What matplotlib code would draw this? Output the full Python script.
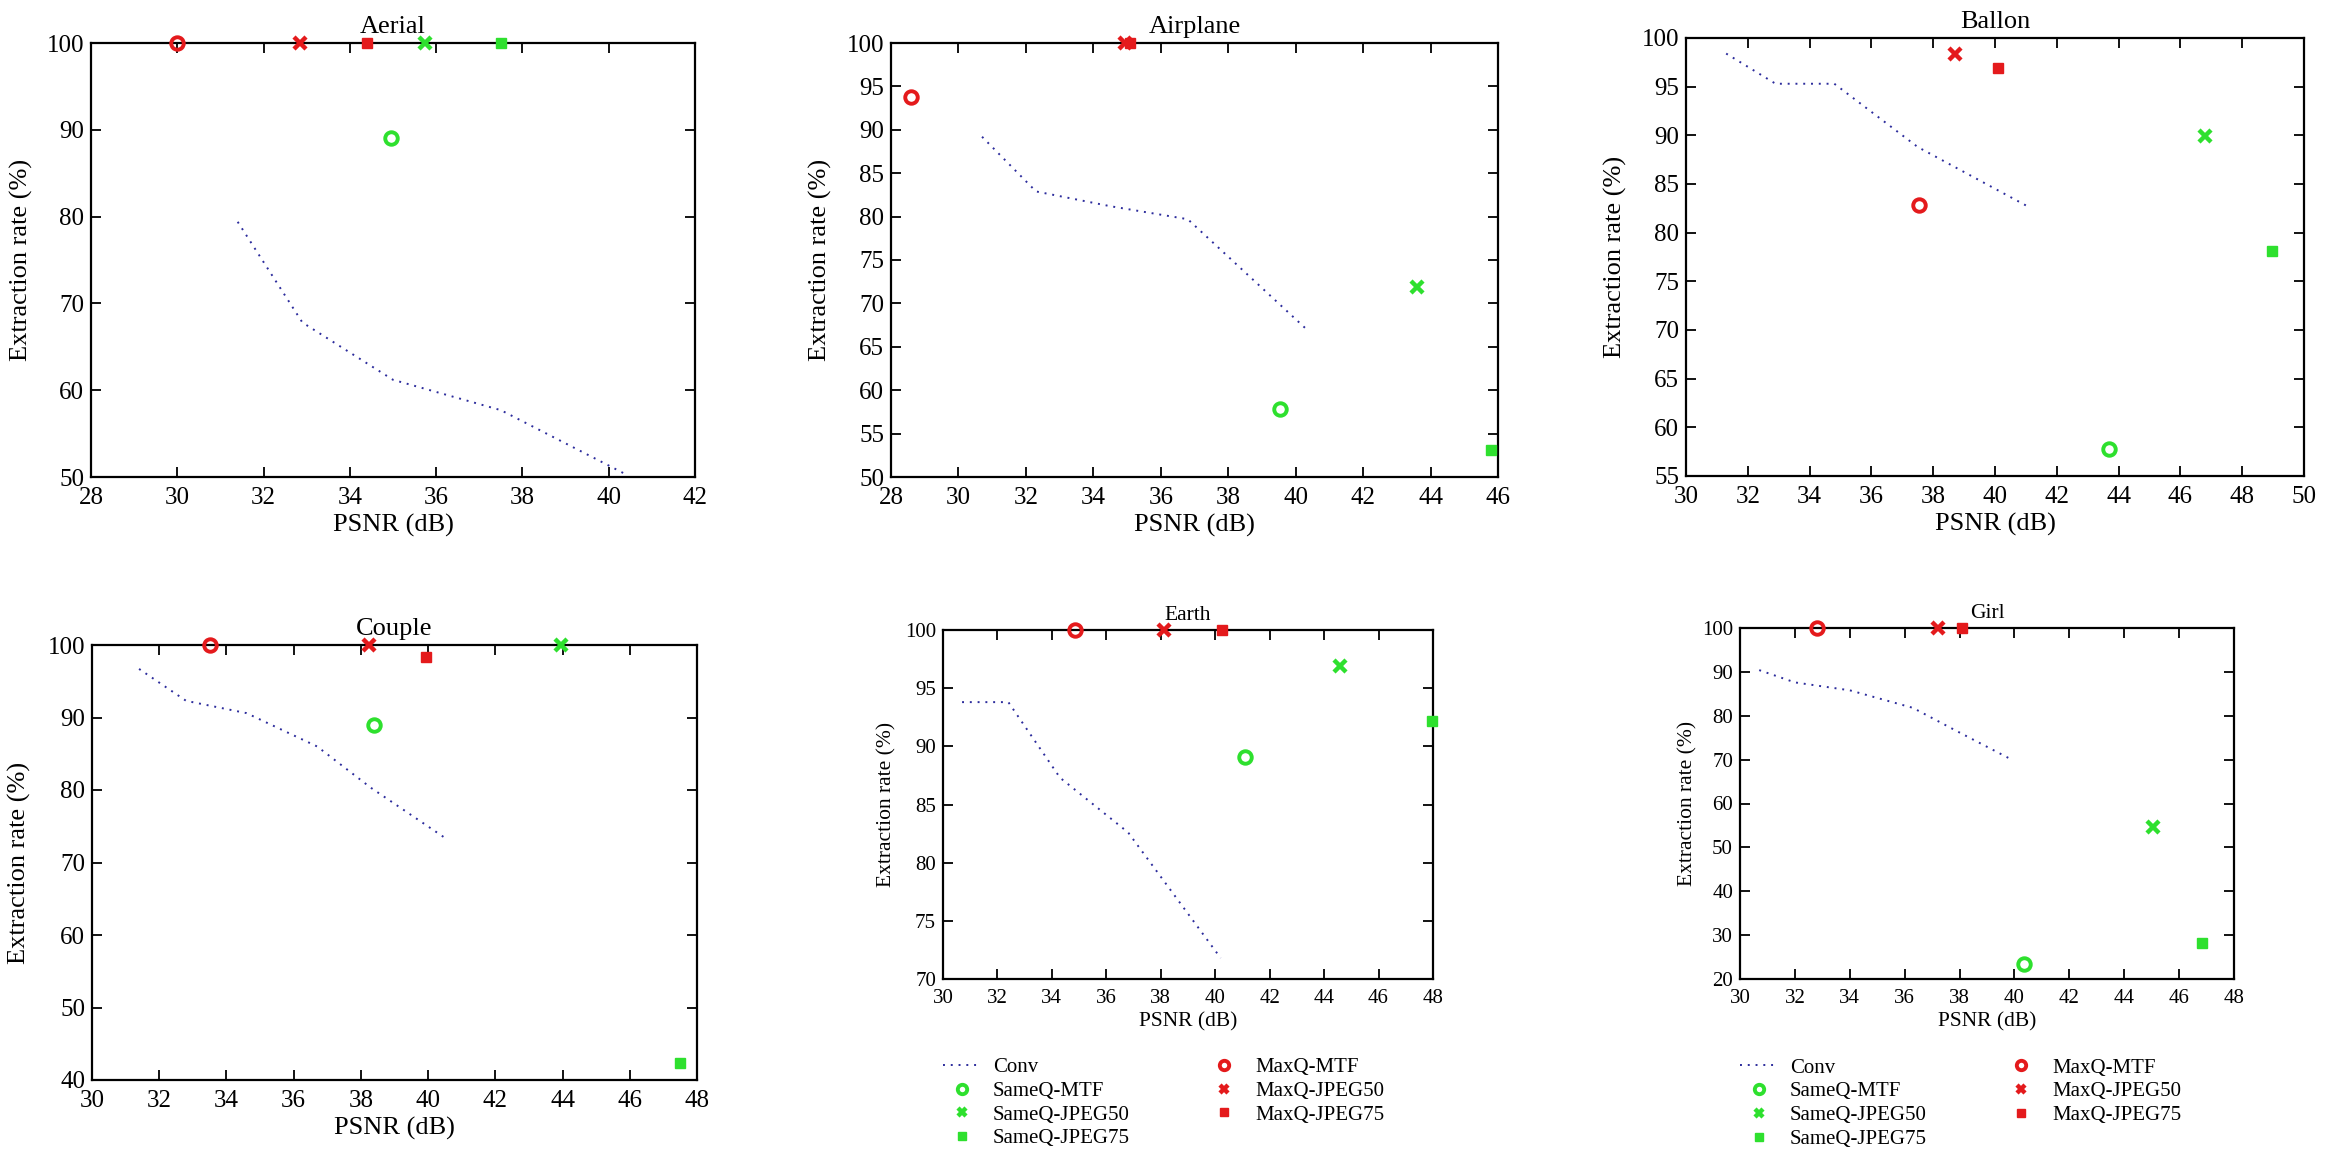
"""
Extraction rate vs PSNR for six test images (Conv, SameQ and MaxQ embedding).
Writes out.png.
"""
import matplotlib
matplotlib.use("Agg")
import matplotlib.pyplot as plt

plt.rcParams["font.family"] = ["Liberation Serif", "DejaVu Serif"]
plt.rcParams["mathtext.default"] = "regular"

images = ["Aerial", "Airplane", "Ballon", "Couple", "Earth", "Girl"]

# Conv curves, one per image
conv_psnr_aerial = [31.4, 32.9, 35.0, 37.5, 40.4]
conv_rate_aerial = [79.4, 67.8, 61.2, 57.7, 50.3]
conv_psnr_airplane = [30.7, 32.3, 34.5, 36.8, 40.3]
conv_rate_airplane = [89.2, 82.9, 81.2, 79.7, 67.1]
conv_psnr_ballon = [31.3, 32.9, 34.8, 37.5, 41.0]
conv_rate_ballon = [98.4, 95.3, 95.3, 88.8, 82.8]
conv_psnr_couple = [31.4, 32.8, 34.6, 36.7, 38.3, 40.5]
conv_rate_couple = [96.7, 92.3, 90.6, 86.0, 80.3, 73.4]
conv_psnr_earth = [30.7, 32.4, 34.3, 36.8, 40.2]
conv_rate_earth = [93.8, 93.8, 87.3, 82.6, 71.8]
conv_psnr_girl = [30.7, 32.0, 34.0, 36.3, 37.9, 39.9]
conv_rate_girl = [90.4, 87.6, 85.8, 81.8, 76.5, 70.0]

# single points per method, in image order
sameq_mtf_psnr = [34.95, 39.55, 43.7, 38.4, 41.1, 40.35]
sameq_mtf_rate = [89.0, 57.8, 57.8, 89.0, 89.05, 23.4]
sameq_jpeg50_psnr = [35.75, 43.6, 46.8, 43.95, 44.6, 45.05]
sameq_jpeg50_rate = [100, 71.9, 89.9, 100, 96.9, 54.7]
sameq_jpeg75_psnr = [37.5, 45.8, 48.95, 47.5, 47.95, 46.85]
sameq_jpeg75_rate = [100, 53.1, 78.1, 42.3, 92.2, 28.1]
maxq_mtf_psnr = [30.0, 28.6, 37.55, 33.5, 34.85, 32.8]
maxq_mtf_rate = [100, 93.8, 82.8, 100, 100, 100]
maxq_jpeg50_psnr = [32.85, 34.95, 38.7, 38.25, 38.1, 37.2]
maxq_jpeg50_rate = [100, 100, 98.4, 100, 100, 100]
maxq_jpeg75_psnr = [34.4, 35.1, 40.1, 39.95, 40.25, 38.1]
maxq_jpeg75_rate = [100, 100, 96.9, 98.4, 100, 100]

# axis ranges
x_lims = [(28, 42), (28, 46), (30, 50), (30, 48), (30, 48), (30, 48)]
y_lims = [(50, 100), (50, 100), (55, 100), (40, 100), (70, 100), (20, 100)]
y_steps = [10, 5, 5, 10, 5, 10]

conv_psnr = [conv_psnr_aerial, conv_psnr_airplane, conv_psnr_ballon,
             conv_psnr_couple, conv_psnr_earth, conv_psnr_girl]
conv_rate = [conv_rate_aerial, conv_rate_airplane, conv_rate_ballon,
             conv_rate_couple, conv_rate_earth, conv_rate_girl]

W, H = 2325, 1158
# axes boxes in pixels: left, top, right, bottom
boxes = [(91, 43, 695, 477), (891, 43, 1498, 477), (1686, 38, 2304, 476),
         (92, 645, 697, 1080), (943, 630, 1433, 979), (1740, 628, 2234, 979)]
# distance from the axes to the right side of the rotated y label
ylabel_gap = [58, 59, 59, 61, 47, 43]

RED = "#e41a1c"
GREEN = "#2ee02e"
BLUE = "#2c2c9c"

fig = plt.figure(figsize=(W / 100, H / 100), dpi=100)

for i, name in enumerate(images):
    l, t, r, b = boxes[i]
    ax = fig.add_axes([l / W, 1 - b / H, (r - l) / W, (b - t) / H])
    small = name in ("Earth", "Girl")
    fs = 15.5 if small else 19
    tick_fs = 15 if small else 18

    ax.plot(conv_psnr[i], conv_rate[i], linestyle=(0, (1, 3)), color=BLUE,
            linewidth=1.4, label="Conv")
    pts = [
        (sameq_mtf_psnr, sameq_mtf_rate, "o", GREEN, "SameQ-MTF"),
        (sameq_jpeg50_psnr, sameq_jpeg50_rate, "x", GREEN, "SameQ-JPEG50"),
        (sameq_jpeg75_psnr, sameq_jpeg75_rate, "s", GREEN, "SameQ-JPEG75"),
        (maxq_mtf_psnr, maxq_mtf_rate, "o", RED, "MaxQ-MTF"),
        (maxq_jpeg50_psnr, maxq_jpeg50_rate, "x", RED, "MaxQ-JPEG50"),
        (maxq_jpeg75_psnr, maxq_jpeg75_rate, "s", RED, "MaxQ-JPEG75"),
    ]
    for px, py, mk, col, lab in pts:
        if mk == "o":
            ax.plot(px[i], py[i], mk, mfc="none", mec=col, mew=2.8, ms=9,
                    linestyle="none", label=lab, clip_on=False, zorder=5)
        elif mk == "x":
            ax.plot(px[i], py[i], mk, color=col, mew=3.2, ms=8,
                    linestyle="none", label=lab, clip_on=False, zorder=5)
        else:
            ax.plot(px[i], py[i], mk, color=col, ms=7.5,
                    linestyle="none", label=lab, clip_on=False, zorder=5)

    ax.set_xlim(*x_lims[i])
    ax.set_ylim(*y_lims[i])
    ax.set_xticks(range(x_lims[i][0], x_lims[i][1] + 1, 2))
    ax.set_yticks(range(y_lims[i][0], y_lims[i][1] + 1, y_steps[i]))
    ax.tick_params(direction="in", length=7, width=1.3, top=True, right=True,
                   labelsize=tick_fs)
    ax.tick_params(axis="x", pad=7)
    ax.tick_params(axis="y", pad=5)
    for sp in ax.spines.values():
        sp.set_linewidth(1.6)

    ax.set_title(name, fontsize=fs, pad=7)
    ax.set_xlabel("PSNR (dB)", fontsize=fs, labelpad=3 if small else 4)
    ax.set_ylabel("Extraction rate (%)", fontsize=fs)
    ax.yaxis.set_label_coords(-ylabel_gap[i] / (r - l), 0.5)

    if small:
        ax.legend(loc="upper left", bbox_to_anchor=(0, -0.225), ncol=2,
                  frameon=False, fontsize=15, markerscale=0.75,
                  handlelength=1.8, handletextpad=0.6, columnspacing=3.6,
                  labelspacing=0.2, borderpad=0, borderaxespad=0)

fig.savefig("out.png", dpi=100)
